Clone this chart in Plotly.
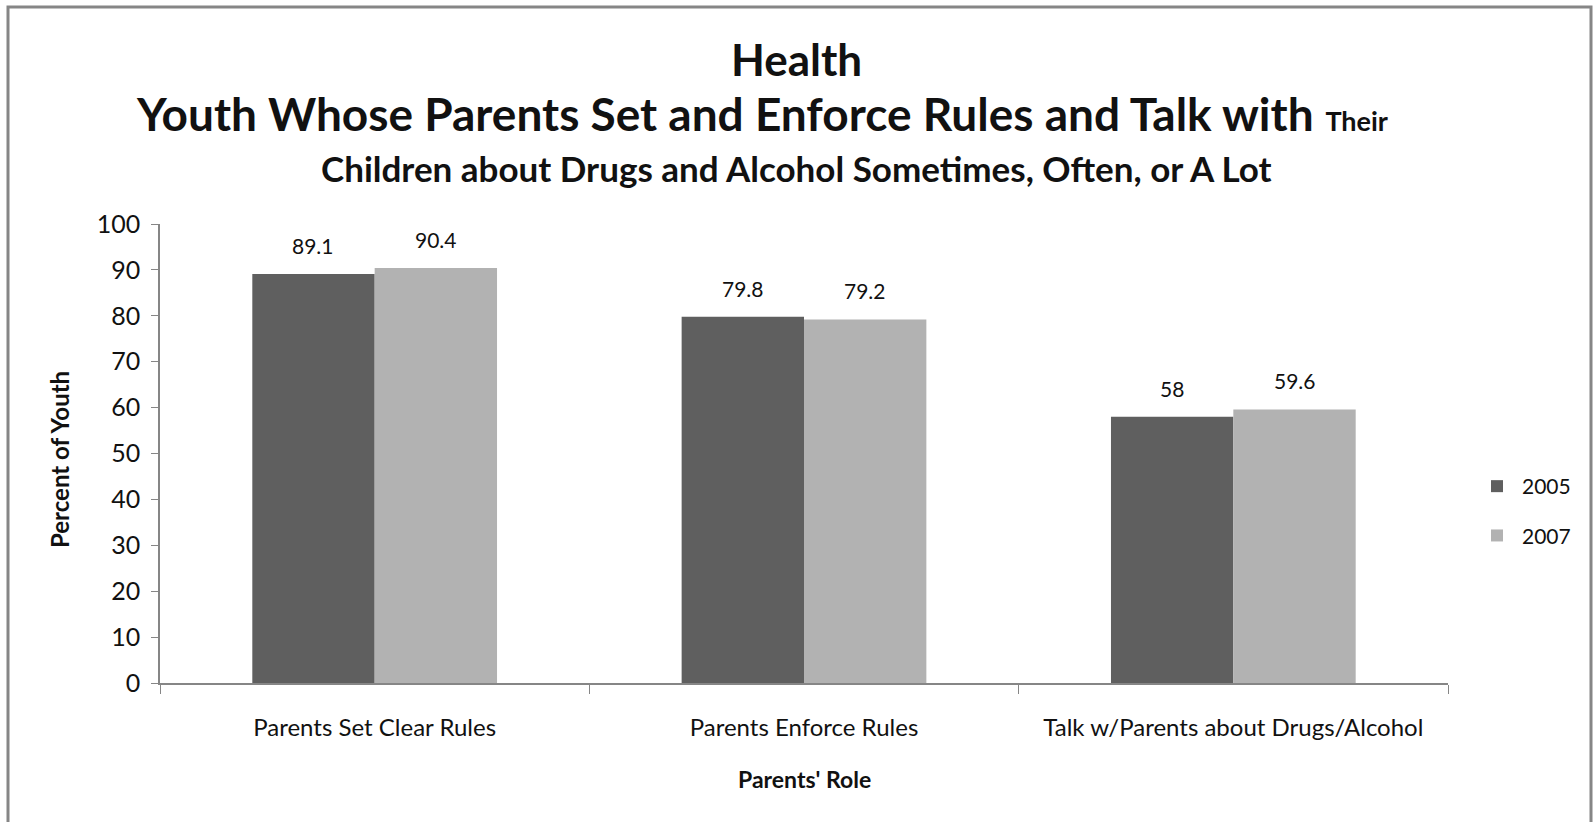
import plotly.graph_objects as go

categories = ["Parents Set Clear Rules", "Parents Enforce Rules", "Talk w/Parents about Drugs/Alcohol"]
years = ["2005", "2007"]
values_2005 = [89.1, 79.8, 58]
values_2007 = [90.4, 79.2, 59.6]
y_ticks = [0, 10, 20, 30, 40, 50, 60, 70, 80, 90, 100]

colors = {"2005": "#5f5f5f", "2007": "#b2b2b2"}
FONT = "Lato, 'Open Sans', sans-serif"
W, H = 1593, 822
BARGAP = 0.43

fig = go.Figure()
for yr, vals in zip(years, [values_2005, values_2007]):
    fig.add_trace(go.Bar(
        name=yr, x=categories, y=vals,
        marker=dict(color=colors[yr], line=dict(width=0)),
        legendgroup=yr,
    ))

# data labels above each bar
bw = (1 - BARGAP) / len(years)
for k, vals in enumerate([values_2005, values_2007]):
    for i, v in enumerate(vals):
        fig.add_annotation(x=i + (k - (len(years) - 1) / 2) * bw, y=v, xref="x", yref="y",
                           text=f"{v:g}", showarrow=False, yanchor="bottom", yshift=14,
                           font=dict(family=FONT, size=21, color="#111"))

x0, x1 = 160 / W, 1448 / W
y0, y1 = 1 - 683 / H, 1 - 224 / H

fig.update_layout(
    width=W, height=H,
    margin=dict(l=0, r=0, t=0, b=0, autoexpand=False),
    paper_bgcolor="white", plot_bgcolor="white",
    barmode="group", bargap=BARGAP, bargroupgap=0,
    font=dict(family=FONT, size=24, color="#111"),
    showlegend=True,
    legend=dict(x=1472 / W, y=1 - 466 / H, xanchor="left", yanchor="top",
                font=dict(size=21, color="#111"), tracegroupgap=19, itemwidth=40,
                bgcolor="rgba(0,0,0,0)"),
    xaxis=dict(domain=[x0, x1], showline=True, linecolor="#868686", linewidth=1.5,
               ticks="outside", tickson="boundaries", ticklen=9, tickcolor="#868686",
               tickfont=dict(size=24, color="#111"), ticklabelstandoff=22,
               showgrid=False, zeroline=False, automargin=False),
    yaxis=dict(domain=[y0, y1], range=[0, 100], tickvals=y_ticks, showline=True,
               linecolor="#868686", linewidth=1.5, ticks="outside", ticklen=7,
               tickcolor="#868686", tickfont=dict(size=25, color="#111"),
               showgrid=False, zeroline=False, ticklabelstandoff=6, automargin=False),
)

ann = [
    dict(text="<b>Health</b>", x=0.5, y=59, size=44),
    dict(text="<b>Youth Whose Parents Set and Enforce Rules and Talk with</b> <span style='font-size:27px'><b>Their</b></span>",
         x=762 / W, y=114, size=46),
    dict(text="<b>Children about Drugs and Alcohol Sometimes, Often, or A Lot</b>", x=0.5, y=168, size=35),
]
for a in ann:
    fig.add_annotation(xref="paper", yref="paper", showarrow=False, x=a["x"], y=1 - a["y"] / H,
                       xanchor="center", yanchor="middle", text=a["text"],
                       font=dict(family=FONT, color="#111", size=a["size"]))

fig.add_annotation(xref="paper", yref="paper", showarrow=False, x=59 / W, y=1 - 460 / H,
                   text="<b>Percent of Youth</b>", textangle=-90, xanchor="center", yanchor="middle",
                   font=dict(family=FONT, color="#111", size=24))
fig.add_annotation(xref="paper", yref="paper", showarrow=False, x=804 / W, y=1 - 779 / H,
                   text="<b>Parents' Role</b>", xanchor="center", yanchor="middle",
                   font=dict(family=FONT, color="#111", size=23))

fig.add_shape(type="rect", xref="paper", yref="paper",
              x0=8 / W, x1=1591 / W, y0=-0.05, y1=1 - 7 / H,
              line=dict(color="#868686", width=3), fillcolor="rgba(0,0,0,0)")

fig.write_html("out.html")
